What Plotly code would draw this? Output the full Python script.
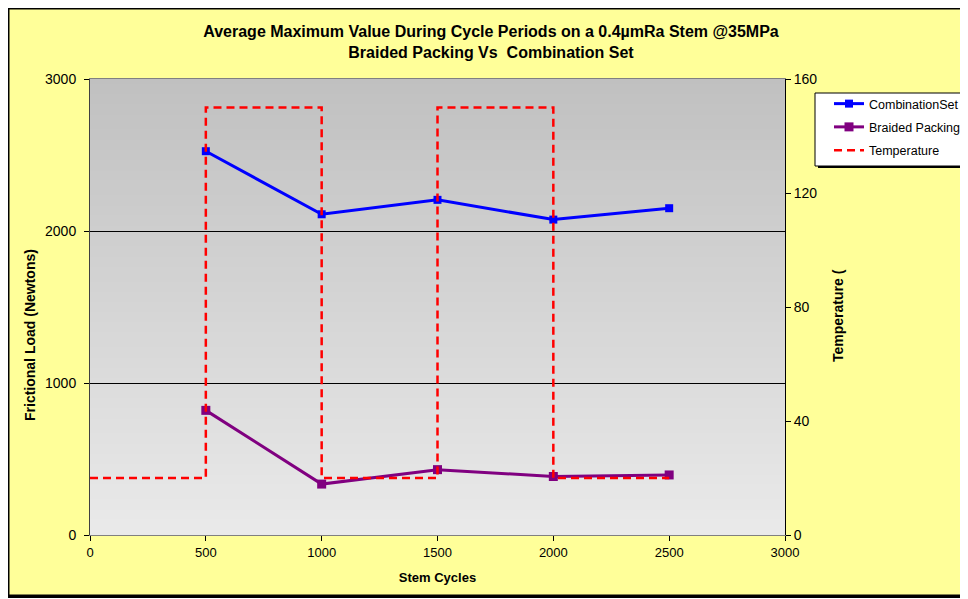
import plotly.graph_objects as go

# ---- data ----
cycles = [500, 1000, 1500, 2000, 2500]
combination_set = [2525, 2110, 2205, 2075, 2150]
braided_packing = [820, 335, 430, 385, 395]
temp_cycles = [0, 500, 1000, 1500, 2000, 2500]
temperature = [20, 150, 20, 150, 20, 20]

x_ticks = [0, 500, 1000, 1500, 2000, 2500, 3000]
y_ticks = [0, 1000, 2000, 3000]
y2_ticks = [0, 40, 80, 120, 160]

W, H = 968, 599
OFF = 8  # page body margin
L, T = 82, 71
PW, PH = 695, 456
R, B = W - L - PW, H - T - PH

def px_x(p):  # screen px -> paper
    return (p - OFF - L) / PW

def px_y(p):
    return (H - B - (p - OFF)) / PH

def cx(p):  # screen px -> container
    return (p - OFF) / W

def cy(p):
    return 1 - (p - OFF) / H

FONT = "Liberation Sans, Arial, sans-serif"

fig = go.Figure()
fig.add_trace(go.Scatter(
    x=cycles, y=combination_set, name="CombinationSet", mode="lines+markers",
    line=dict(color="#0000FF", width=3), marker=dict(symbol="square", size=8, color="#0000FF"),
    legendgroup="a"))
fig.add_trace(go.Scatter(
    x=cycles, y=braided_packing, name="Braided Packing", mode="lines+markers",
    line=dict(color="#800080", width=3), marker=dict(symbol="square", size=9, color="#800080"),
    legendgroup="b"))
fig.add_trace(go.Scatter(
    x=temp_cycles, y=temperature, name="Temperature", mode="lines", yaxis="y2",
    line=dict(color="#FF0000", width=2.5, dash="8px,5px", shape="hv"),
    legendgroup="c"))

shapes = []
# figure border with shadow
shapes.append(dict(type="rect", xref="paper", yref="paper", layer="below",
                   x0=px_x(7), x1=px_x(1000), y0=px_y(598), y1=px_y(6),
                   fillcolor="black", line=dict(width=0)))
shapes.append(dict(type="rect", xref="paper", yref="paper", layer="below",
                   x0=px_x(9), x1=px_x(990), y0=px_y(595), y1=px_y(9),
                   fillcolor="#FFFF99", line=dict(color="black", width=1)))
# plot area gradient
N = 90
top, bot = (192, 192, 192), (234, 234, 234)
for i in range(N):
    f = (i + 0.5) / N
    c = tuple(round(top[k] + (bot[k] - top[k]) * f) for k in range(3))
    shapes.append(dict(type="rect", xref="x domain", yref="y domain", layer="below",
                       x0=0, x1=1, y0=1 - (i + 1) / N - 0.002, y1=1 - i / N,
                       fillcolor="rgb(%d,%d,%d)" % c, line=dict(width=0)))
# legend box with shadow
shapes.append(dict(type="rect", xref="paper", yref="paper", layer="above",
                   x0=px_x(818), x1=px_x(990), y0=px_y(168), y1=px_y(96),
                   fillcolor="black", line=dict(width=0)))
shapes.append(dict(type="rect", xref="paper", yref="paper", layer="above",
                   x0=px_x(815), x1=px_x(985), y0=px_y(166), y1=px_y(93),
                   fillcolor="white", line=dict(color="black", width=1)))

annotations = [
    dict(text="<b>Frictional Load (Newtons)</b>", xref="paper", yref="paper",
         x=px_x(30), y=px_y(335), xanchor="center", yanchor="middle",
         textangle=-90, showarrow=False,
         font=dict(family=FONT, size=14, color="black")),
    dict(text="<b>Temperature (</b>", xref="paper", yref="paper",
         x=px_x(838), y=px_y(316), xanchor="center", yanchor="middle",
         textangle=-90, showarrow=False,
         font=dict(family=FONT, size=14, color="black")),
]

fig.update_layout(
    width=W, height=H,
    margin=dict(l=L, r=R, t=T, b=B),
    paper_bgcolor="white",
    plot_bgcolor="#D5D5D5",
    font=dict(family=FONT, color="black"),
    title=dict(text="<b>Average Maximum Value During Cycle Periods on a 0.4µmRa Stem @35MPa<br>Braided Packing Vs  Combination Set</b>",
               x=px_x(491), xref="paper", xanchor="center",
               y=1 - 29 / H, yref="container", yanchor="top",
               font=dict(family=FONT, size=16, color="black")),
    xaxis=dict(range=[0, 3000], tickvals=x_ticks, ticks="outside", ticklen=5, tickcolor="black",
               showgrid=False, zeroline=False, showline=True, linecolor="#808080", linewidth=1,
               mirror=True, tickfont=dict(size=13), automargin=False,
               title=dict(text="<b>Stem Cycles</b>", font=dict(size=13), standoff=14)),
    yaxis=dict(range=[0, 3000], tickvals=y_ticks, ticks="outside", ticklen=5, tickcolor="black",
               showgrid=True, gridcolor="black", gridwidth=1, zeroline=False,
               showline=True, linecolor="#404040", linewidth=1, tickfont=dict(size=14),
               ticklabelstandoff=5, automargin=False),
    yaxis2=dict(range=[0, 160], tickvals=y2_ticks, overlaying="y", side="right",
                ticks="outside", ticklen=5, tickcolor="black", showgrid=False, zeroline=False,
                showline=True, linecolor="black", linewidth=1, tickfont=dict(size=14),
                automargin=False),
    legend=dict(x=cx(829), y=cy(89), xref="container", yref="container",
                xanchor="left", yanchor="top",
                bgcolor="rgba(0,0,0,0)", borderwidth=0, tracegroupgap=4,
                font=dict(family=FONT, size=12.5, color="black")),
    shapes=shapes,
    annotations=annotations,
    showlegend=True,
)

fig.write_html("out.html")
